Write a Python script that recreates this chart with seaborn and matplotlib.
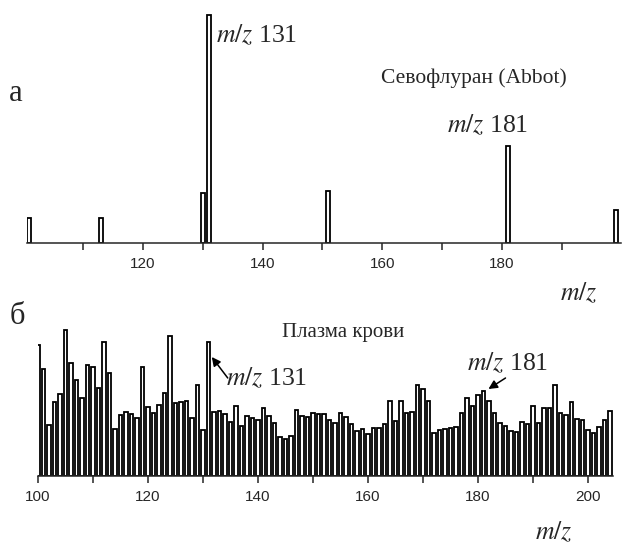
import numpy as np
import matplotlib
matplotlib.use('Agg')
import matplotlib.pyplot as plt
import seaborn as sns
from matplotlib.ticker import MultipleLocator

sns.set_style('white')
plt.rcParams['font.family'] = ['Liberation Serif', 'DejaVu Serif']
plt.rcParams['mathtext.fontset'] = 'stix'

# panel a: sevoflurane standard (relative intensity, m/z 131 = 100)
mz_a = [101, 113, 130, 131, 151, 181, 199]
int_a = [11, 11, 22, 100, 23, 42.5, 14.5]

# panel b: blood plasma (arbitrary units)
mz_b = list(range(100, 205))
int_b = [131, 107, 51, 74, 82, 146, 113, 96, 78, 111,
         109, 88, 134, 103, 47, 61, 64, 62, 58, 109,
         69, 63, 71, 83, 140, 73, 74, 75, 58, 91,
         46, 134, 64, 65, 62, 54, 70, 50, 60, 58,
         56, 68, 60, 53, 39, 37, 40, 66, 60, 59,
         63, 62, 62, 56, 53, 63, 59, 52, 45, 47,
         42, 48, 48, 52, 75, 55, 75, 63, 64, 91,
         87, 75, 43, 46, 47, 48, 49, 63, 78, 70,
         81, 85, 75, 63, 53, 50, 45, 44, 54, 52,
         70, 53, 68, 68, 91, 63, 61, 74, 57, 56,
         46, 43, 49, 56, 65]

W, H = 622, 546
fig = plt.figure(figsize=(W / 100, H / 100), dpi=100)

def px(x0, y_top, x1, y_bot):
    return [x0 / W, 1 - y_bot / H, (x1 - x0) / W, (y_bot - y_top) / H]

ax1 = fig.add_axes(px(27.2, 10, 621, 243))
ax2 = fig.add_axes(px(38, 326, 612.75, 476))

sns.barplot(x=mz_a, y=int_a, native_scale=True, width=0.65, color='white',
            edgecolor='black', linewidth=1.3, ax=ax1)
sns.barplot(x=mz_b, y=int_b, native_scale=True, width=0.62, color='white',
            edgecolor='black', linewidth=1.3, ax=ax2)

ax1.set_xlim(100.7, 199.85)
ax1.set_ylim(0, 102.2)
ax2.set_xlim(100, 204.5)
ax2.set_ylim(0, 150)

for ax in (ax1, ax2):
    sns.despine(ax=ax, left=True, top=True, right=True)
    ax.spines['bottom'].set_linewidth(1.1)
    ax.set_yticks([])
    ax.set_xlabel('')
    ax.set_ylabel('')
    ax.xaxis.set_major_locator(MultipleLocator(20))
    ax.xaxis.set_minor_locator(MultipleLocator(10))
    ax.tick_params(axis='x', which='both', direction='out', length=5, width=1.1,
                   bottom=True, labelsize=11, pad=5)
    for lab in ax.get_xticklabels():
        lab.set_family(['Liberation Sans', 'DejaVu Sans'])
    ax.patch.set_alpha(0)

def ftext(x, y, s, size, ha='left', va='center'):
    fig.text(x / W, 1 - y / H, s, fontsize=size, ha=ha, va=va)

ftext(16, 93, 'а', 22, ha='center')
ftext(216, 35, r'$m/z$ 131', 18.5)
ftext(474, 78, 'Севофлуран (Abbot)', 15.5, ha='center')
ftext(488, 125, r'$m/z$ 181', 18.5, ha='center')
ftext(579, 293, r'$m/z$', 18.5, ha='center')

ftext(17, 316, 'б', 22, ha='center')
ftext(343, 332, 'Плазма крови', 15, ha='center')
ftext(226, 378, r'$m/z$ 131', 18.5)
ftext(508, 363, r'$m/z$ 181', 18.5, ha='center')
ftext(554, 532, r'$m/z$', 18.5, ha='center')

arrow = dict(arrowstyle='-|>', color='black', lw=1.1, mutation_scale=13,
             shrinkA=0, shrinkB=0)
ax2.annotate('', xy=(131.6, 119), xytext=(134.5, 98), arrowprops=arrow,
             annotation_clip=False)
ax2.annotate('', xy=(181.9, 87), xytext=(185.0, 98), arrowprops=arrow,
             annotation_clip=False)

fig.savefig('out.png', dpi=100)
